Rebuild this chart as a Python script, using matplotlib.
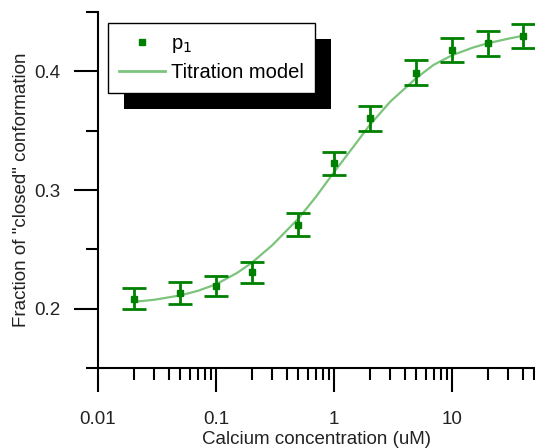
import matplotlib
matplotlib.use("Agg")
import matplotlib.pyplot as plt
from matplotlib.lines import Line2D
from matplotlib.patches import Rectangle
from matplotlib.ticker import FixedLocator, LogLocator, NullFormatter
import numpy as np

plt.rcParams['font.family'] = ['Liberation Sans', 'DejaVu Sans']

# measured points (calcium in uM)
conc = [0.02, 0.05, 0.1, 0.2, 0.5, 1, 2, 5, 10, 20, 40]
p1 = [0.2084, 0.2132, 0.2194, 0.2306, 0.2709, 0.3224, 0.3603, 0.3989, 0.4181, 0.4237, 0.4298]
p1_err = [0.009, 0.0089, 0.0084, 0.0087, 0.0096, 0.010, 0.0104, 0.0103, 0.0103, 0.0105, 0.0103]

# titration model curve
model_x = [0.02, 0.03, 0.05, 0.07, 0.1, 0.15, 0.2, 0.3, 0.5, 0.7, 1, 1.5, 2, 3, 5, 7,
           10, 15, 20, 30, 40]
model_y = [0.2057, 0.2075, 0.2112, 0.2150, 0.2205, 0.2300, 0.2385, 0.2535, 0.2760, 0.2940,
           0.3150, 0.3380, 0.3545, 0.3745, 0.3945, 0.4055, 0.4135, 0.4200, 0.4236, 0.4275, 0.4300]

y_major = [0.2, 0.3, 0.4]
y_minor = [0.15, 0.25, 0.35, 0.45]

green = '#008000'
light_green = '#7cc47c'
text_col = '#222222'

fig = plt.figure(figsize=(5.35, 4.48), dpi=100)
ax = fig.add_axes([98 / 535, 1 - 368 / 448, 1 - 98 / 535, (368 - 12) / 448])

ax.plot(model_x, model_y, color=light_green, lw=1.6, zorder=2)
ax.errorbar(conc, p1, yerr=p1_err, fmt='none', ecolor=green, elinewidth=2.0,
            capsize=8.5, capthick=2.0, zorder=3)
ax.plot(conc, p1, 's', color=green, ms=4.5, zorder=4)

ax.set_xscale('log')
ax.set_xlim(0.01, 0.01 * 10 ** (437 / 118))
ax.set_ylim(0.15, 0.45)

ax.yaxis.set_major_locator(FixedLocator(y_major))
ax.yaxis.set_minor_locator(FixedLocator(y_minor))
ax.set_yticklabels(['0.2', '0.3', '0.4'])
ax.xaxis.set_minor_locator(LogLocator(base=10, subs=np.arange(2, 10), numticks=20))
ax.xaxis.set_minor_formatter(NullFormatter())
ax.set_xticks([0.01, 0.1, 1, 10])
ax.set_xticklabels(['0.01', '0.1', '1', '10'])

for s in ['top', 'right']:
    ax.spines[s].set_visible(False)
for s in ['left', 'bottom']:
    ax.spines[s].set_linewidth(1.5)

ax.tick_params(which='major', length=17, width=1.5, direction='out',
               labelsize=13.5, labelcolor=text_col)
ax.tick_params(axis='x', which='major', pad=14)
ax.tick_params(axis='y', which='major', pad=10)
ax.tick_params(which='minor', length=8.5, width=1.5, direction='out')

ax.set_xlabel('Calcium concentration (uM)', fontsize=13.5, color=text_col, labelpad=2)
ax.set_ylabel('Fraction of "closed" conformation', fontsize=13.5, color=text_col,
              labelpad=3)

handles = [Line2D([], [], ls='none', marker='s', color=green, ms=5),
           Line2D([], [], color=light_green, lw=2)]
leg = ax.legend(handles, ['p$_1$', 'Titration model'], loc='upper left',
                bbox_to_anchor=(0.023, 0.97), borderaxespad=0, fancybox=False,
                edgecolor='black', framealpha=1, fontsize=14.5, handlelength=2.3,
                handletextpad=0.3, labelspacing=0.4, borderpad=0.55)
leg.get_frame().set_linewidth(1.0)
leg.set_zorder(5)

# solid black drop shadow behind the legend box
fig.canvas.draw()
bb = leg.get_window_extent()
shadow = Rectangle((bb.x0 + 16, bb.y0 - 16), bb.width, bb.height, transform=None,
                   facecolor='black', edgecolor='none', zorder=4.9, clip_on=False)
ax.add_patch(shadow)

fig.savefig('out.png', dpi=100)
